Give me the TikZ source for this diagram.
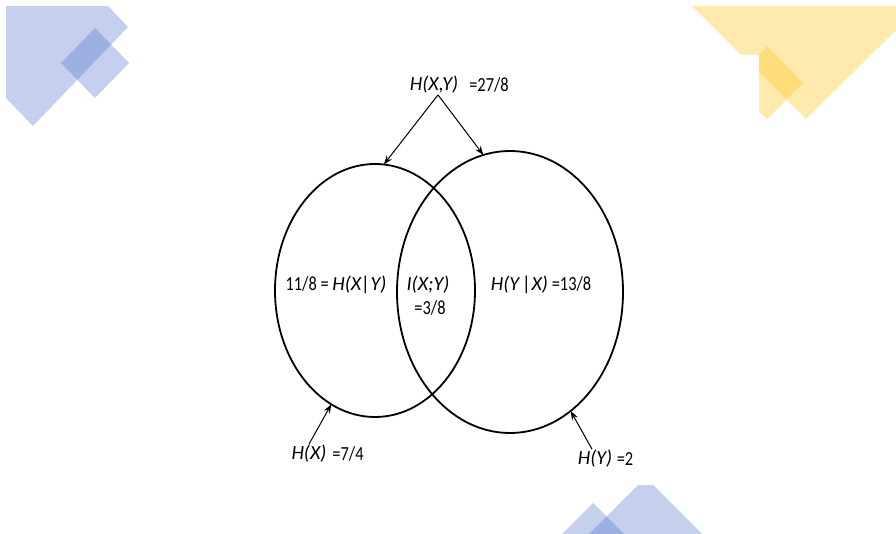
\documentclass[tikz,border=0pt]{standalone}
\usepackage{fontspec}
\setmainfont{Carlito}
% narrow upright face for the numbers
\newfontfamily\numfont{Carlito}[FakeStretch=0.82]
\usetikzlibrary{shapes.geometric,arrows.meta}
\definecolor{decoblue}{RGB}{70,110,200}
\definecolor{decogold}{RGB}{255,200,40}
% italic quantity names
\newcommand\qty[1]{{\rmfamily\itshape #1}}
\begin{document}
\begin{tikzpicture}[x=1pt,y=-1pt,
  infoset/.style={ellipse, draw, line width=1.8pt, inner sep=0pt, outer sep=0pt},
  lbl/.style={font=\numfont\fontsize{20}{24}\selectfont, inner sep=1pt},
  ptr/.style={-{Stealth[length=9pt,width=6.5pt]}, line width=1pt},
  blueshape/.style={fill=decoblue, fill opacity=0.32},
  goldshape/.style={fill=decogold, fill opacity=0.38}]
\useasboundingbox (0,0) rectangle (896,534);

% corner decorations
\fill[blueshape] (6,6) -- (108,6) -- (128,27) -- (33,126) -- (6,98) -- cycle;
\fill[blueshape] (95,28) -- (129,63) -- (95,98) -- (61,63) -- cycle;
\fill[goldshape] (692,6) -- (896,6) -- (896,30) -- (806,119) -- (759,72) -- (759,55) -- (741,55) -- cycle;
\fill[goldshape] (759,55) -- (767,46) -- (803,83) -- (767,119) -- (759,111) -- cycle;
\fill[blueshape] (638,485) -- (653,485) -- (702,534) -- (589,534) -- cycle;
\fill[blueshape] (593,503) -- (624,534) -- (562,534) -- cycle;

% the two entropy sets
\node[infoset, minimum width=200pt, minimum height=253pt] (X) at (375,290.5) {};
\node[infoset, minimum width=226pt, minimum height=282pt] (Y) at (510,292) {};

% labels
\node[lbl] (entXY) at (434,85) {\qty{H(X,Y)}};
\node[lbl] (valXY) at (489,85) {=27/8};
\node[lbl] (condX) at (336,285) {11/8 = \qty{H(X|Y)}};
\node[lbl] (mutual) at (428,285) {\qty{I(X;Y)}};
\node[lbl] (mutualval) at (430,308) {=3/8};
\node[lbl] (condY) at (541,285) {\qty{H(Y\,|X)} =13/8};
\node[lbl] (entX) at (309,454) {\qty{H(X)}};
\node[lbl] (valX) at (348,454) {=7/4};
\node[lbl] (entY) at (595,459) {\qty{H(Y)}};
\node[lbl] (valY) at (625,459) {=2};

% pointers
\draw[ptr] ([xshift=4pt]entXY.south) -- (X.86.4);
\draw[ptr] ([xshift=4pt]entXY.south) -- (Y.101.3);
\draw[ptr] (entX.north) -- (X.249.9);
\draw[ptr] ([xshift=-3pt]entY.north) -- (Y.297.3);
\end{tikzpicture}
\end{document}
